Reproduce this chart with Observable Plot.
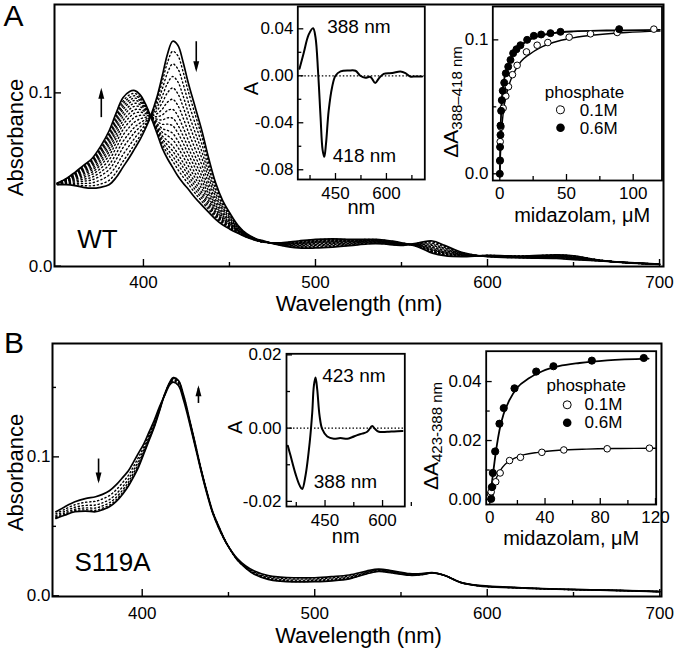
<!DOCTYPE html>
<html><head><meta charset="utf-8">
<script src="https://cdn.jsdelivr.net/npm/d3@7"></script>
<script src="https://cdn.jsdelivr.net/npm/@observablehq/plot@0.6"></script>
<style>
body{margin:0;background:#fff;}
#fig{position:relative;width:677px;height:648px;background:#fff;overflow:hidden;}
</style></head><body><div id="fig"></div>
<script>
// ---------- Panel A (WT) spectra ----------
const wlA = [350,355,360,365,370,375,380,384,388,392,395,398,401,404,408,411,414,417,420,423,426,430,434,438,442,446,450,455,460,465,470,480,490,500,510,520,530,535,540,550,560,568,575,585,600,620,640,650,665,680,700];
const absA_start = [0.047,0.047,0.0465,0.0455,0.045,0.0455,0.047,0.051,0.057,0.063,0.068,0.073,0.079,0.086,0.098,0.110,0.1225,0.1298,0.1275,0.118,0.106,0.092,0.078,0.062,0.048,0.038,0.031,0.0235,0.0187,0.016,0.0145,0.012,0.0105,0.0105,0.011,0.0118,0.0128,0.013,0.0128,0.012,0.0135,0.0145,0.012,0.008,0.0055,0.0048,0.0045,0.0038,0.003,0.0022,0.0012];
const absA_end = [0.048,0.0505,0.054,0.058,0.062,0.069,0.078,0.088,0.097,0.1008,0.1013,0.099,0.094,0.087,0.0763,0.068,0.062,0.057,0.052,0.048,0.0445,0.0395,0.0352,0.031,0.027,0.0238,0.0215,0.019,0.0167,0.015,0.0138,0.0135,0.0145,0.0155,0.0158,0.0155,0.0155,0.0155,0.015,0.0135,0.011,0.0075,0.006,0.0055,0.0062,0.0058,0.0065,0.006,0.0035,0.002,0.001];
// fraction of change of each intermediate (dotted) spectrum, read at the 418 nm peak
const fracA = [0.08,0.18,0.28,0.37,0.46,0.54,0.61,0.67,0.73,0.78,0.83,0.87,0.91,0.95];

// ---------- Panel B (S119A) spectra ----------
const wlB = [350,355,361,367,373,377,381,385,389,392,395,398,401,404,407,410,413,416,418,421,424,428,431,434,438,441,444,447,450,455,460,465,473,480,488,500,510,520,530,537,545,555,562,568,575,585,595,600,620,640,660,680,700];
const absB_start = [0.0605,0.064,0.0677,0.070,0.0713,0.073,0.0756,0.080,0.0856,0.090,0.0964,0.103,0.1096,0.118,0.1263,0.136,0.1443,0.152,0.1538,0.1514,0.1407,0.1215,0.106,0.0904,0.0713,0.059,0.0498,0.042,0.0354,0.027,0.0215,0.0178,0.0145,0.0135,0.013,0.013,0.0138,0.015,0.0178,0.0192,0.018,0.016,0.016,0.0167,0.0148,0.0095,0.0075,0.007,0.0058,0.0049,0.0043,0.0038,0.003];
const absB_end = [0.0557,0.058,0.0605,0.061,0.0605,0.062,0.0641,0.068,0.0737,0.079,0.0856,0.093,0.1024,0.112,0.1215,0.133,0.145,0.1538,0.157,0.155,0.1443,0.1239,0.108,0.0916,0.0725,0.060,0.051,0.0425,0.0354,0.026,0.020,0.0155,0.0118,0.0105,0.010,0.0102,0.0108,0.0122,0.0158,0.0175,0.0165,0.0148,0.0152,0.0165,0.0148,0.0095,0.0072,0.0066,0.0056,0.0047,0.0042,0.0037,0.003];
const fracB = [0.3,0.55,0.75,0.9];

// ---------- Difference spectra (insets) ----------
const diffA_wl = [344,356,371,384,391,399,406,412,417,422,430,440,450,465,489,509,523,538,553,567,577,592,617,641,656,670,685,705];
const diffA_val = [0.006,0.019,0.035,0.0405,0.033,0.002,-0.035,-0.063,-0.069,-0.058,-0.0295,-0.0097,0.0,0.0037,0.0045,0.0043,0.0,-0.0017,-0.001,-0.0062,-0.0025,0.0017,0.0023,0.0037,0.0023,-0.0006,-0.0006,-0.0006];
const diffB_wl = [353,360,373,384,390.5,399,410,416.6,420.8,425.2,429.6,435.7,442.7,455.8,473,490,508,520,534,547,560,573,580,590.5,612,630,652];
const diffB_val = [-0.0048,-0.0075,-0.0125,-0.0157,-0.0166,-0.013,-0.0039,0.0042,0.0115,0.0138,0.0106,0.0034,-0.0003,-0.0023,-0.0029,-0.0027,-0.0029,-0.0025,-0.0019,-0.0015,-0.001,0.0006,-0.0002,-0.001,-0.001,-0.0009,-0.0008];

// ---------- Titrations (insets) ----------
const titA_06 = [[0,0],[0.2,0.010],[0.2,0.020],[0.5,0.029],[0.5,0.036],[1,0.047],[1.5,0.055],[2.2,0.062],[3.3,0.068],[4.5,0.075],[6.3,0.080],[8,0.085],[10,0.09],[12.5,0.093],[15.5,0.096],[20.5,0.1],[25.5,0.103],[31,0.104],[38,0.105],[45.5,0.106],[89.5,0.108]];
const titA_01 = [[0,0.0095],[0.3,0.024],[0.8,0.035],[2.5,0.049],[4.5,0.058],[6.5,0.065],[9.5,0.074],[13,0.081],[20,0.091],[28,0.096],[36,0.098],[52,0.102],[68,0.1045],[88,0.1055],[115.5,0.108]];
const fitA_06 = [[0,0],[0.3,0.018],[0.6,0.033],[1,0.045],[1.5,0.055],[2.2,0.063],[3,0.069],[4.5,0.076],[6.5,0.082],[9,0.088],[12,0.092],[16,0.096],[22,0.1],[30,0.103],[40,0.105],[55,0.1063],[80,0.107],[120,0.1075]];
const fitA_01 = [[0,0],[0.5,0.015],[1,0.026],[2,0.04],[3,0.049],[4.5,0.057],[6.5,0.065],[9,0.072],[12,0.078],[16,0.084],[22,0.089],[30,0.094],[40,0.098],[55,0.1015],[75,0.104],[95,0.1055],[120,0.1065]];
const titB_06 = [[1,0.0002],[1.5,0.0042],[2.2,0.009],[3.9,0.0163],[7,0.0257],[10.1,0.031],[17.9,0.0377],[33.6,0.0434],[46.1,0.0452],[73.9,0.0471],[111.5,0.048]];
const titB_01 = [[0.5,0.0019],[1,0.0026],[2,0.0043],[4.3,0.006],[7.5,0.009],[14.3,0.0132],[22.2,0.0143],[37.7,0.016],[53.6,0.0168],[85,0.0172],[115.6,0.0174]];
const fitB_06 = [[0,0],[1,0.0035],[2,0.0075],[3.5,0.013],[5,0.018],[7,0.0235],[10,0.029],[14,0.0335],[20,0.038],[28,0.041],[38,0.0435],[50,0.0452],[65,0.0463],[85,0.0472],[115,0.0478]];
const fitB_01 = [[0,0],[1,0.002],[2.5,0.0045],[4,0.0065],[6,0.0085],[9,0.0108],[13,0.0127],[18,0.014],[25,0.0152],[35,0.016],[50,0.0167],[70,0.0171],[95,0.0173],[120,0.0174]];

// ---------- Ticks ----------
const mainXMajor = [400,500,600,700], mainXMinor = [450,550,650];
const mainAYMajor = [0,0.1], mainAYMinor = [];
const mainBYMajor = [0,0.1], mainBYMinor = [0.05,0.15];
const diffXMajor = [450,600], diffXMinor = [375,525,675];
const diffAYMajor = [0.04,0,-0.04,-0.08], diffAYMinor = [0.02,-0.02,-0.06];
const diffBYMajor = [0.02,0,-0.02], diffBYMinor = [0.01,-0.01];
const titAXMajor = [0,50,100], titAXMinor = [25,75];
const titAYMajor = [0,0.1], titAYMinor = [0.05];
const titBXMajor = [0,40,80,120], titBXMinor = [20,60,100];
const titBYMajor = [0,0.02,0.04], titBYMinor = [0.01,0.03];

// arrows (wavelength, tail absorbance, tip absorbance)
const arrowsA = [[375.5,0.086,0.1029],[430.7,0.1298,0.1119]];
const arrowsB = [[374.7,0.0988,0.0809],[432.6,0.1388,0.1515]];

// ---------- helpers ----------
const FONT = '"Liberation Sans", Arial, Helvetica, sans-serif';
const fig = document.getElementById("fig");
function mk(opts, left, top) {
  const svg = Plot.plot({...opts, style: {background: "transparent", fontFamily: FONT, overflow: "visible", color: "black"}});
  svg.style.position = "absolute"; svg.style.left = left + "px"; svg.style.top = top + "px";
  fig.appendChild(svg);
  return svg;
}
// text helper: centered anchors unless overridden
function T(data, o) { return Plot.text(data, {textAnchor: "middle", lineAnchor: "middle", fill: "black", ...o}); }
function tickMarks(xMaj, xMin, yMaj, yMin, iw, ih, maj = 7, min = 4, sw = 1.4) {
  return [
    Plot.tickX(xMaj, {x: d => d, insetTop: ih - maj, strokeWidth: sw}),
    Plot.tickX(xMin, {x: d => d, insetTop: ih - min, strokeWidth: sw}),
    Plot.tickY(yMaj, {y: d => d, insetRight: iw - maj, strokeWidth: sw}),
    Plot.tickY(yMin, {y: d => d, insetRight: iw - min, strokeWidth: sw})
  ];
}
function spectraRows(wl, s, e, fr) {
  const solid = [], dotted = [];
  wl.forEach((w, i) => { solid.push({k: 0, w, a: s[i]}); solid.push({k: 1, w, a: e[i]}); });
  fr.forEach((f, k) => wl.forEach((w, i) => dotted.push({k, w, a: s[i] + f * (e[i] - s[i])})));
  return {solid, dotted};
}
const headSym = {draw(ctx, size) { const h = Math.sqrt(size); ctx.moveTo(0, 0); ctx.lineTo(h * 0.27, h); ctx.lineTo(-h * 0.27, h); ctx.closePath(); }};
function arrowMarks(arr) {
  return [
    Plot.link(arr, {x1: d => d[0], x2: d => d[0], y1: d => d[1], y2: d => d[2] + (d[2] > d[1] ? -0.002 : 0.002), strokeWidth: 1.6}),
    Plot.dot(arr, {x: d => d[0], y: d => d[2], symbol: headSym, r: 6.2, fill: "black", stroke: null, rotate: d => d[2] > d[1] ? 0 : 180})
  ];
}

// ---------- Main A ----------
{
  const W = 677, H = 320, mL = 54, mR = 14, mT = 4, mB = 54;
  const {solid, dotted} = spectraRows(wlA, absA_start, absA_end, fracA);
  mk({width: W, height: H, marginLeft: mL, marginRight: mR, marginTop: mT, marginBottom: mB,
    x: {domain: [348.3, 702.3], axis: null}, y: {domain: [-0.0002, 0.151], axis: null},
    marks: [
      Plot.line(dotted, {x: "w", y: "a", z: "k", curve: "catmull-rom", strokeWidth: 1.4, strokeDasharray: "1.2 2.8"}),
      Plot.line(solid, {x: "w", y: "a", z: "k", curve: "catmull-rom", strokeWidth: 1.7}),
      ...arrowMarks(arrowsA),
      ...tickMarks(mainXMajor, mainXMinor, mainAYMajor, mainAYMinor, W - mL - mR, H - mT - mB),
      T(mainXMajor, {x: d => d, text: d => String(d), frameAnchor: "bottom", dy: 16.5, fontSize: 17}),
      T(mainAYMajor, {y: d => d, text: d => d.toFixed(1), frameAnchor: "left", textAnchor: "end", dx: -2, fontSize: 17}),
      T(["Wavelength (nm)"], {frameAnchor: "bottom", dy: 37, fontSize: 22}),
      T(["Absorbance"], {frameAnchor: "left", rotate: -90, dx: -39, dy: 2, fontSize: 22}),
      T(["A"], {frameAnchor: "top-left", dx: -41, dy: 12, fontSize: 30}),
      T(["WT"], {frameAnchor: "bottom-left", textAnchor: "start", dx: 22.7, dy: -27, fontSize: 26}),
      Plot.frame({stroke: "black", strokeWidth: 2})
    ]}, 0, 0);
}

// ---------- Main B ----------
{
  const W = 677, H = 325, mL = 52, mR = 16, mT = 20, mB = 52;
  const {solid, dotted} = spectraRows(wlB, absB_start, absB_end, fracB);
  mk({width: W, height: H, marginLeft: mL, marginRight: mR, marginTop: mT, marginBottom: mB,
    x: {domain: [348, 701], axis: null}, y: {domain: [-0.0005, 0.1816], axis: null},
    marks: [
      Plot.line(dotted, {x: "w", y: "a", z: "k", curve: "catmull-rom", strokeWidth: 1.4, strokeDasharray: "1.2 2.8"}),
      Plot.line(solid, {x: "w", y: "a", z: "k", curve: "catmull-rom", strokeWidth: 1.7}),
      ...arrowMarks(arrowsB),
      ...tickMarks(mainXMajor, mainXMinor, mainBYMajor, mainBYMinor, W - mL - mR, H - mT - mB),
      T(mainXMajor, {x: d => d, text: d => String(d), frameAnchor: "bottom", dy: 17.3, fontSize: 17}),
      T(mainBYMajor, {y: d => d, text: d => d.toFixed(1), frameAnchor: "left", textAnchor: "end", dx: -2, fontSize: 17}),
      T(["Wavelength (nm)"], {frameAnchor: "bottom", dx: 1.5, dy: 39, fontSize: 22}),
      T(["Absorbance"], {frameAnchor: "left", rotate: -90, dx: -37, dy: 2.5, fontSize: 22}),
      T(["B"], {frameAnchor: "top-left", dx: -38.5, dy: 0, fontSize: 30}),
      T(["S119A"], {frameAnchor: "bottom-left", textAnchor: "start", dx: 22, dy: -34.3, fontSize: 26}),
      Plot.frame({stroke: "black", strokeWidth: 2})
    ]}, 0, 323);
}

// ---------- Difference inset A ----------
{
  const W = 200, H = 230, mL = 67.3, mR = 5.7, mT = 6, mB = 51;
  mk({width: W, height: H, marginLeft: mL, marginRight: mR, marginTop: mT, marginBottom: mB,
    x: {domain: [339, 713], axis: null}, y: {domain: [-0.0883, 0.059], axis: null},
    marks: [
      Plot.frame({fill: "white"}),
      Plot.ruleY([0], {strokeDasharray: "1.5 2", strokeWidth: 1.3}),
      Plot.line(diffA_wl.map((w, i) => [w, diffA_val[i]]), {x: d => d[0], y: d => d[1], curve: "catmull-rom", strokeWidth: 2}),
      ...tickMarks(diffXMajor, diffXMinor, diffAYMajor, diffAYMinor, W - mL - mR, H - mT - mB, 6, 4, 1.3),
      T(diffXMajor, {x: d => d, text: d => String(d), frameAnchor: "bottom", dy: 14, fontSize: 17}),
      T(diffAYMajor, {y: d => d, text: d => d.toFixed(2), frameAnchor: "left", textAnchor: "end", dx: -4.3, fontSize: 17}),
      T(["nm"], {frameAnchor: "bottom", dy: 28, fontSize: 20}),
      T(["A"], {frameAnchor: "left", rotate: -90, dx: -46, dy: -4.5, fontSize: 20}),
      T(["388 nm"], {frameAnchor: "top-left", textAnchor: "start", dx: 29.4, dy: 20.7, fontSize: 19}),
      T(["418 nm"], {frameAnchor: "top-left", textAnchor: "start", dx: 35, dy: 149, fontSize: 19}),
      Plot.frame({stroke: "black", strokeWidth: 1.8})
    ]}, 230, 0);
}

// ---------- Titration inset A ----------
{
  const W = 240, H = 230, mL = 62.3, mR = 8.5, mT = 6, mB = 50;
  const svg = mk({width: W, height: H, marginLeft: mL, marginRight: mR, marginTop: mT, marginBottom: mB,
    x: {domain: [-5.25, 121.6], axis: null}, y: {domain: [-0.005, 0.1249], axis: null},
    marks: [
      Plot.frame({fill: "white"}),
      Plot.line(fitA_01, {x: d => d[0], y: d => d[1], curve: "monotone-x", strokeWidth: 1.4}),
      Plot.line(fitA_06, {x: d => d[0], y: d => d[1], curve: "monotone-x", strokeWidth: 1.8}),
      Plot.dot(titA_01, {x: d => d[0], y: d => d[1], r: 3.3, fill: "white", stroke: "black", strokeWidth: 1}),
      Plot.dot(titA_06, {x: d => d[0], y: d => d[1], r: 3.5, fill: "black", stroke: "black", strokeWidth: 1}),
      ...tickMarks(titAXMajor, titAXMinor, titAYMajor, titAYMinor, W - mL - mR, H - mT - mB, 6, 4, 1.3),
      T(titAXMajor, {x: d => d, text: d => String(d), frameAnchor: "bottom", dy: 13, fontSize: 17}),
      T(titAYMajor, {y: d => d, text: d => d.toFixed(1), frameAnchor: "left", textAnchor: "end", dx: -4.3, fontSize: 17}),
      T(["midazolam, μM"], {frameAnchor: "bottom", dx: 4.8, dy: 35, fontSize: 20}),
      T(["phosphate"], {frameAnchor: "top-left", dx: 91.7, dy: 85.7, fontSize: 17}),
      Plot.dot([0], {frameAnchor: "top-left", dx: 67.7, dy: 103.3, r: 4, fill: "white", stroke: "black", strokeWidth: 1}),
      T(["0.1M"], {frameAnchor: "top-left", textAnchor: "start", dx: 87, dy: 104, fontSize: 17}),
      Plot.dot([0], {frameAnchor: "top-left", dx: 67.7, dy: 121.3, r: 4.3, fill: "black"}),
      T(["0.6M"], {frameAnchor: "top-left", textAnchor: "start", dx: 87, dy: 122, fontSize: 17}),
      Plot.frame({stroke: "black", strokeWidth: 1.8})
    ]}, 430, 0);
  const t = d3.select(svg).append("text").attr("transform", "translate(28,102) rotate(-90)")
    .attr("text-anchor", "middle").attr("font-family", FONT).attr("font-size", 21).attr("fill", "black");
  t.append("tspan").text("ΔA");
  t.append("tspan").attr("font-size", 15).attr("dy", 4).text("388–418 nm");
}

// ---------- Difference inset B ----------
{
  const W = 190, H = 230, mL = 66, mR = 5.7, mT = 23.3, mB = 54;
  mk({width: W, height: H, marginLeft: mL, marginRight: mR, marginTop: mT, marginBottom: mB,
    x: {domain: [349.5, 658], axis: null}, y: {domain: [-0.0214, 0.0203], axis: null},
    marks: [
      Plot.frame({fill: "white"}),
      Plot.ruleY([0], {strokeDasharray: "1.5 2", strokeWidth: 1.3}),
      Plot.line(diffB_wl.map((w, i) => [w, diffB_val[i]]), {x: d => d[0], y: d => d[1], curve: "catmull-rom", strokeWidth: 2}),
      ...tickMarks(diffXMajor, diffXMinor, diffBYMajor, diffBYMinor, W - mL - mR, H - mT - mB, 6, 4, 1.3),
      T(diffXMajor, {x: d => d, text: d => String(d), frameAnchor: "bottom", dy: 14, fontSize: 17}),
      T(diffBYMajor, {y: d => d, text: d => d.toFixed(2), frameAnchor: "left", textAnchor: "end", dx: -5, fontSize: 17}),
      T(["nm"], {frameAnchor: "bottom", dy: 30, fontSize: 20}),
      T(["A"], {frameAnchor: "left", rotate: -90, dx: -51, dy: -2.7, fontSize: 20}),
      T(["423 nm"], {frameAnchor: "top-left", textAnchor: "start", dx: 35.7, dy: 21.7, fontSize: 19}),
      T(["388 nm"], {frameAnchor: "top-left", textAnchor: "start", dx: 27.3, dy: 128.4, fontSize: 19}),
      Plot.frame({stroke: "black", strokeWidth: 1.8})
    ]}, 220, 330);
}

// ---------- Titration inset B ----------
{
  const W = 245, H = 230, mL = 65.7, mR = 9.3, mT = 20.7, mB = 56;
  const svg = mk({width: W, height: H, marginLeft: mL, marginRight: mR, marginTop: mT, marginBottom: mB,
    x: {domain: [-2.6, 120.5], axis: null}, y: {domain: [-0.0017, 0.0503], axis: null},
    marks: [
      Plot.frame({fill: "white"}),
      Plot.line(fitB_01, {x: d => d[0], y: d => d[1], curve: "monotone-x", strokeWidth: 1.4}),
      Plot.line(fitB_06, {x: d => d[0], y: d => d[1], curve: "monotone-x", strokeWidth: 1.8}),
      Plot.dot(titB_01, {x: d => d[0], y: d => d[1], r: 3.3, fill: "white", stroke: "black", strokeWidth: 1}),
      Plot.dot(titB_06, {x: d => d[0], y: d => d[1], r: 3.6, fill: "black", stroke: "black", strokeWidth: 1}),
      ...tickMarks(titBXMajor, titBXMinor, titBYMajor, titBYMinor, W - mL - mR, H - mT - mB, 6, 4, 1.3),
      T(titBXMajor, {x: d => d, text: d => String(d), frameAnchor: "bottom", dy: 13, fontSize: 17}),
      T(titBYMajor, {y: d => d, text: d => d.toFixed(2), frameAnchor: "left", textAnchor: "end", dx: -4.7, fontSize: 17}),
      T(["midazolam, μM"], {frameAnchor: "bottom", dy: 34, fontSize: 20}),
      T(["phosphate"], {frameAnchor: "top-left", dx: 100, dy: 34, fontSize: 17}),
      Plot.dot([0], {frameAnchor: "top-left", dx: 81, dy: 53.6, r: 4, fill: "white", stroke: "black", strokeWidth: 1}),
      T(["0.1M"], {frameAnchor: "top-left", textAnchor: "start", dx: 98.3, dy: 53.3, fontSize: 17}),
      Plot.dot([0], {frameAnchor: "top-left", dx: 81, dy: 71.6, r: 4.3, fill: "black"}),
      T(["0.6M"], {frameAnchor: "top-left", textAnchor: "start", dx: 98.3, dy: 71.3, fontSize: 17}),
      Plot.frame({stroke: "black", strokeWidth: 1.8})
    ]}, 420, 330);
  const t = d3.select(svg).append("text").attr("transform", "translate(18,106) rotate(-90)")
    .attr("text-anchor", "middle").attr("font-family", FONT).attr("font-size", 21).attr("fill", "black");
  t.append("tspan").text("ΔA");
  t.append("tspan").attr("font-size", 15).attr("dy", 4).text("423-388 nm");
}
</script></body></html>
